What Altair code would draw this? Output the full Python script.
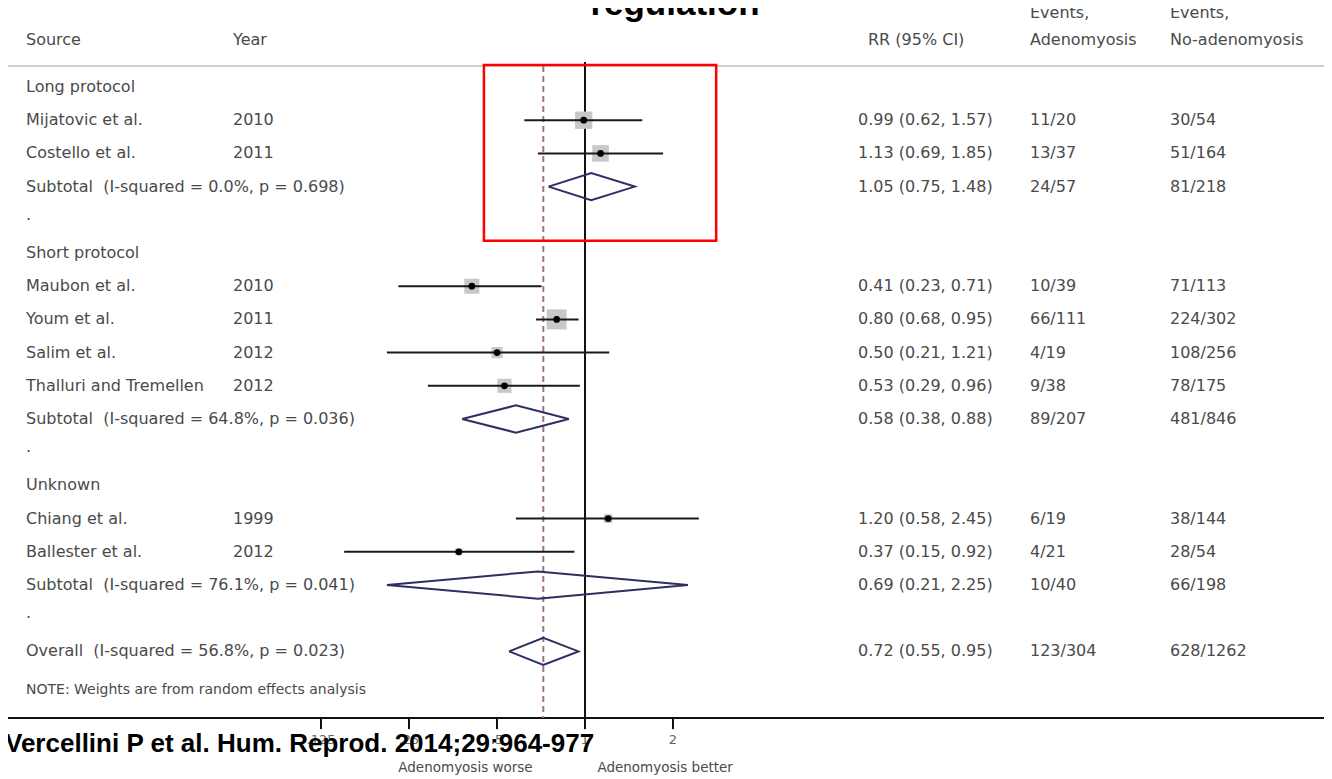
import altair as alt
import pandas as pd

# ---------------- data ----------------
study_names = ["Mijatovic et al.", "Costello et al.", "Maubon et al.", "Youm et al.",
               "Salim et al.", "Thalluri and Tremellen", "Chiang et al.", "Ballester et al."]
study_years = ["2010", "2011", "2010", "2011", "2012", "2012", "1999", "2012"]
study_rr = [0.99, 1.13, 0.41, 0.80, 0.50, 0.53, 1.20, 0.37]
study_lo = [0.62, 0.69, 0.23, 0.68, 0.21, 0.29, 0.58, 0.15]
study_hi = [1.57, 1.85, 0.71, 0.95, 1.21, 0.96, 2.45, 0.92]
study_ev_adeno = ["11/20", "13/37", "10/39", "66/111", "4/19", "9/38", "6/19", "4/21"]
study_ev_noadeno = ["30/54", "51/164", "71/113", "224/302", "108/256", "78/175", "38/144", "28/54"]
study_weight = [12, 11, 9, 16, 5, 8, 3, 2]
study_rows = [1, 2, 6, 7, 8, 9, 13, 14]

pooled_labels = ["Subtotal\u00a0 (I-squared = 0.0%, p = 0.698)",
                 "Subtotal\u00a0 (I-squared = 64.8%, p = 0.036)",
                 "Subtotal\u00a0 (I-squared = 76.1%, p = 0.041)",
                 "Overall\u00a0 (I-squared = 56.8%, p = 0.023)"]
pooled_rr = [1.05, 0.58, 0.69, 0.72]
pooled_lo = [0.75, 0.38, 0.21, 0.55]
pooled_hi = [1.48, 0.88, 2.25, 0.95]
pooled_ev_adeno = ["24/57", "89/207", "10/40", "123/304"]
pooled_ev_noadeno = ["81/218", "481/846", "66/198", "628/1262"]
pooled_rows = [3, 10, 15, 17]

group_labels = ["Long protocol", "Short protocol", "Unknown", ".", ".", "."]
group_rows = [0, 5, 12, 3.85, 10.85, 15.85]

note_text = "NOTE: Weights are from random effects analysis"
note_row = 18.15

tick_values = [0.125, 0.25, 0.5, 1, 2]
tick_labels = [".125", ".25", ".5", "1", "2"]

overall_rr = 0.72

# annotation box (in data units)
box_x = [0.451]
box_x2 = [2.81]
box_y = [-0.66]
box_y2 = [4.63]

# ---------------- layout helpers ----------------
W, H = 1316, 771
xscale = alt.Scale(type="log", domain=[0.010619, 337.3], range=[0, W])
yscale = alt.Scale(type="linear", domain=[-2.3795, 20.843], range=[0, H])
FONT = "DejaVu Sans"
BOLD = "Liberation Sans"
TXT = "#4a4a4a"
FS = 16

X = lambda f="x": alt.X(f"{f}:Q", scale=xscale, axis=None)
Y = lambda f="y": alt.Y(f"{f}:Q", scale=yscale, axis=None)

def fmt_ci(r, l, h):
    return f"{r:.2f} ({l:.2f}, {h:.2f})"

rows = []
for n, yr, r, l, h, ea, en, rw in zip(study_names, study_years, study_rr, study_lo, study_hi,
                                       study_ev_adeno, study_ev_noadeno, study_rows):
    rows.append(dict(y=rw, col="src", t=n))
    rows.append(dict(y=rw, col="year", t=yr))
    rows.append(dict(y=rw, col="rr", t=fmt_ci(r, l, h)))
    rows.append(dict(y=rw, col="ea", t=ea))
    rows.append(dict(y=rw, col="en", t=en))
for lab, r, l, h, ea, en, rw in zip(pooled_labels, pooled_rr, pooled_lo, pooled_hi,
                                     pooled_ev_adeno, pooled_ev_noadeno, pooled_rows):
    rows.append(dict(y=rw, col="src", t=lab))
    rows.append(dict(y=rw, col="rr", t=fmt_ci(r, l, h)))
    rows.append(dict(y=rw, col="ea", t=ea))
    rows.append(dict(y=rw, col="en", t=en))
for lab, rw in zip(group_labels, group_rows):
    rows.append(dict(y=rw, col="src", t=lab))
rows += [dict(y=-1.42, col="src", t="Source"), dict(y=-1.42, col="year", t="Year"),
         dict(y=-1.42, col="rrh", t="RR (95% CI)"),
         dict(y=-2.23, col="ea", t="Events,"), dict(y=-1.42, col="ea", t="Adenomyosis"),
         dict(y=-2.23, col="en", t="Events,"), dict(y=-1.42, col="en", t="No-adenomyosis")]
text_df = pd.DataFrame(rows)
col_x = {"src": 18, "year": 225, "rr": 850, "rrh": 860, "ea": 1022, "en": 1162}

text_layers = []
for c, px in col_x.items():
    text_layers.append(
        alt.Chart(text_df[text_df.col == c]).mark_text(
            align="left", baseline="middle", font=FONT, fontSize=FS, color=TXT
        ).encode(x=alt.value(px), y=Y(), text="t:N")
    )
note = alt.Chart(pd.DataFrame(dict(y=[note_row], t=[note_text]))).mark_text(
    align="left", baseline="middle", font=FONT, fontSize=14, color=TXT
).encode(x=alt.value(col_x["src"]), y=Y(), text="t:N")

study_df = pd.DataFrame(dict(y=study_rows, rr=study_rr, lo=study_lo, hi=study_hi, w=study_weight))

squares = alt.Chart(study_df).mark_square(color="#c8c8c8", opacity=1).encode(
    x=X("rr"), y=Y(), size=alt.Size("w:Q", scale=alt.Scale(domain=[0, 16], range=[0, 400]), legend=None))
ci = alt.Chart(study_df).mark_rule(color="#1a1a1a", strokeWidth=2).encode(
    x=X("lo"), x2="hi:Q", y=Y())
dots = alt.Chart(study_df).mark_circle(color="#000000", size=45, opacity=1).encode(x=X("rr"), y=Y())

dia = []
hh = 0.41
for i, (r, l, h, rw) in enumerate(zip(pooled_rr, pooled_lo, pooled_hi, pooled_rows)):
    pts = [(l, rw), (r, rw - hh), (h, rw), (r, rw + hh), (l, rw)]
    for k, (xx, yy) in enumerate(pts):
        dia.append(dict(d=i, k=k, x=xx, y=yy))
dia_df = pd.DataFrame(dia)
diamonds = alt.Chart(dia_df).mark_line(color="#2d2f62", strokeWidth=2).encode(
    x=X(), y=Y(), detail="d:N", order="k:Q")

null_df = pd.DataFrame(dict(x=[1], y=[-0.75], y2=[19.006]))
null_line = alt.Chart(null_df).mark_rule(color="#111111", strokeWidth=2).encode(
    x=X(), y=Y(), y2="y2:Q")
ov_df = pd.DataFrame(dict(x=[overall_rr], y=[-0.63], y2=[19.006]))
ov_line = alt.Chart(ov_df).mark_rule(color="#9a7585", strokeWidth=2, strokeDash=[6, 4]).encode(
    x=X(), y=Y(), y2="y2:Q")

hdr_line = alt.Chart(pd.DataFrame(dict(y=[-0.63]))).mark_rule(color="#cfcfcf", strokeWidth=2).encode(
    x=alt.value(-8), x2=alt.value(W + 8), y=Y())
axis_line = alt.Chart(pd.DataFrame(dict(y=[19.006]))).mark_rule(color="#111111", strokeWidth=2).encode(
    x=alt.value(-8), x2=alt.value(W + 8), y=Y())

tick_df = pd.DataFrame(dict(x=tick_values, lab=tick_labels, y=[19.006] * 5, y2=[19.34] * 5, ly=[19.68] * 5))
ticks = alt.Chart(tick_df).mark_rule(color="#111111", strokeWidth=2).encode(x=X(), y=Y(), y2="y2:Q")
tick_text = alt.Chart(tick_df).mark_text(font=FONT, fontSize=13, color="#666666", baseline="middle").encode(
    x=X(), y=Y("ly"), text="lab:N")

side_df = pd.DataFrame(dict(x=[0.39, 1.88], y=[20.5, 20.5], t=["Adenomyosis worse", "Adenomyosis better"]))
side_text = alt.Chart(side_df).mark_text(font=FONT, fontSize=13.5, color=TXT, baseline="middle").encode(
    x=X(), y=Y(), text="t:N")

box_df = pd.DataFrame(dict(x=box_x, x2=box_x2, y=box_y, y2=box_y2))
box = alt.Chart(box_df).mark_rect(fill="transparent", stroke="#ff0000", strokeWidth=2.5).encode(
    x=X(), x2="x2:Q", y=Y(), y2="y2:Q")

title = alt.Chart(pd.DataFrame(dict(t=["regulation"]))).mark_text(
    font=BOLD, fontSize=35, fontWeight="bold", color="#000000", align="center", baseline="alphabetic"
).encode(x=alt.value(667), y=alt.value(7), text="t:N")

caption = alt.Chart(pd.DataFrame(dict(t=["Vercellini P et al. Hum. Reprod. 2014;29:964-977"]))).mark_text(
    font=BOLD, fontSize=26, fontWeight="bold", color="#000000", align="left", baseline="alphabetic"
).encode(x=alt.value(-3), y=alt.value(744), text="t:N")

chart = alt.layer(
    hdr_line, axis_line, ov_line, null_line, box, squares, ci, dots, diamonds,
    ticks, tick_text, side_text, *text_layers, note, title, caption
).properties(
    width=W, height=H, autosize=alt.AutoSizeParams(type="none"), padding=0
).configure_view(stroke=None)

chart.save("out.html", embed_options={"renderer": "svg", "actions": False})
